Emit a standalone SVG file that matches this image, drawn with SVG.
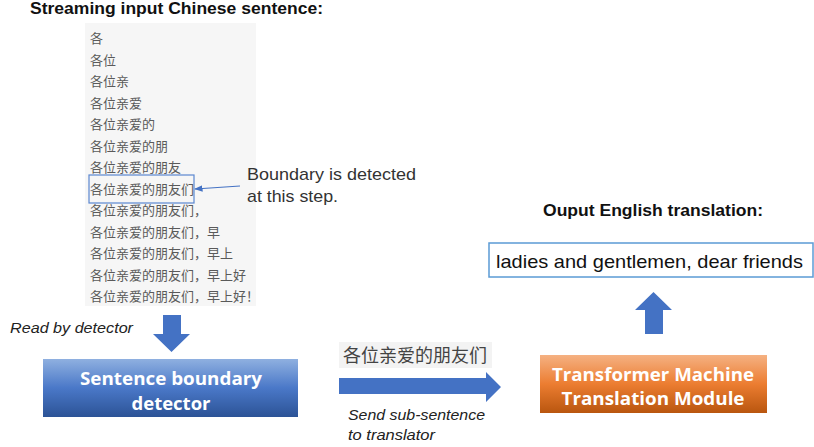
<svg xmlns="http://www.w3.org/2000/svg" width="814" height="447" viewBox="0 0 814 447">
<defs>
<linearGradient id="gBlue" x1="0" y1="0" x2="0" y2="1"><stop offset="0" stop-color="#8fb0e0"/><stop offset="0.5" stop-color="#4a78c8"/><stop offset="1" stop-color="#2c5396"/></linearGradient>
<linearGradient id="gOrange" x1="0" y1="0" x2="0" y2="1"><stop offset="0" stop-color="#f5b182"/><stop offset="0.5" stop-color="#ec7d31"/><stop offset="1" stop-color="#b9560f"/></linearGradient>
<marker id="ah" viewBox="0 0 10 10" refX="9" refY="5" markerWidth="7" markerHeight="7" orient="auto"><path d="M0,1 L10,5 L0,9 z" fill="#4472c4"/></marker>
<style>
.t{font-family:"Liberation Sans","Noto Sans",sans-serif;}
.b{font-weight:bold;}
.cn{font-family:"Noto Sans CJK SC",sans-serif;font-size:13px;fill:#5a5a5a;}
.it{font-family:"Liberation Sans",sans-serif;font-style:italic;font-size:14px;fill:#222;}
.w{fill:#fff;font-weight:bold;font-size:18.5px;text-anchor:middle;font-family:"Open Sans","Liberation Sans",sans-serif;}
.blk{fill:#4472c4;}
</style>
</defs>
<rect width="814" height="447" fill="#fff"/>
<g id="input">
<text class="t b" x="30" y="14" font-size="16" fill="#111" textLength="293" lengthAdjust="spacingAndGlyphs">Streaming input Chinese sentence:</text>
<rect x="85" y="23" width="171" height="283" fill="#f6f6f6"/>
<text class="cn" x="90" y="43">各</text>
<text class="cn" x="90" y="64.5">各位</text>
<text class="cn" x="90" y="86">各位亲</text>
<text class="cn" x="90" y="107.5">各位亲爱</text>
<text class="cn" x="90" y="129">各位亲爱的</text>
<text class="cn" x="90" y="150.5">各位亲爱的朋</text>
<text class="cn" x="90" y="172">各位亲爱的朋友</text>
<text class="cn" x="90" y="193.5">各位亲爱的朋友们</text>
<text class="cn" x="90" y="215">各位亲爱的朋友们，</text>
<text class="cn" x="90" y="236.5">各位亲爱的朋友们，早</text>
<text class="cn" x="90" y="258">各位亲爱的朋友们，早上</text>
<text class="cn" x="90" y="279.5">各位亲爱的朋友们，早上好</text>
<text class="cn" x="90" y="301">各位亲爱的朋友们，早上好！</text>
<rect x="89" y="175" width="105" height="28" fill="none" stroke="#5b87d0" stroke-width="1.2"/>
</g>
<g id="boundary-note">
<text class="t" x="247" y="180" font-size="17" fill="#333" textLength="169" lengthAdjust="spacingAndGlyphs">Boundary is detected</text>
<text class="t" x="247" y="202" font-size="17" fill="#333" textLength="91" lengthAdjust="spacingAndGlyphs">at this step.</text>
</g>
<g id="detector">
<rect x="43" y="359" width="255" height="58" fill="url(#gBlue)"/>
<text class="w" x="171" y="385" textLength="182" lengthAdjust="spacingAndGlyphs">Sentence boundary</text>
<text class="w" x="171" y="410">detector</text>
</g>
<g id="subsentence">
<rect x="339" y="342" width="153" height="26" fill="#f3f3f3"/>
<text x="343" y="362" font-family="Noto Sans CJK SC,sans-serif" font-size="18" fill="#444">各位亲爱的朋友们</text>
</g>
<g id="translator">
<rect x="540" y="355" width="227" height="58" fill="url(#gOrange)"/>
<text class="w" x="653" y="381" textLength="202" lengthAdjust="spacingAndGlyphs">Transformer Machine</text>
<text class="w" x="653" y="405" textLength="183" lengthAdjust="spacingAndGlyphs">Translation Module</text>
</g>
<g id="output">
<text class="t b" x="543" y="216" font-size="16" fill="#111" textLength="220" lengthAdjust="spacingAndGlyphs">Ouput English translation:</text>
<rect x="489" y="243" width="324" height="34" fill="#fff" stroke="#5b9bd5" stroke-width="1.5"/>
<text class="t" x="496" y="268" font-size="19" fill="#111" textLength="307" lengthAdjust="spacingAndGlyphs">ladies and gentlemen, dear friends</text>
</g>
<g id="connectors">
<line x1="240" y1="186" x2="195" y2="189" stroke="#4472c4" stroke-width="1.2" marker-end="url(#ah)"/>
<polygon class="blk" points="163,315 181,315 181,334 190,334 171.5,352 153,334 163,334"/>
<polygon class="blk" points="339,378 486,378 486,372 501,387 486,402 486,394 339,394"/>
<polygon class="blk" points="645,334 663,334 663,310 672,310 653.5,292 635,310 645,310"/>
<text class="it" x="10" y="333" textLength="123" lengthAdjust="spacingAndGlyphs">Read by detector</text>
<text class="it" x="348" y="420" textLength="137" lengthAdjust="spacingAndGlyphs">Send sub-sentence</text>
<text class="it" x="348" y="440" textLength="87" lengthAdjust="spacingAndGlyphs">to translator</text>
</g>
</svg>
